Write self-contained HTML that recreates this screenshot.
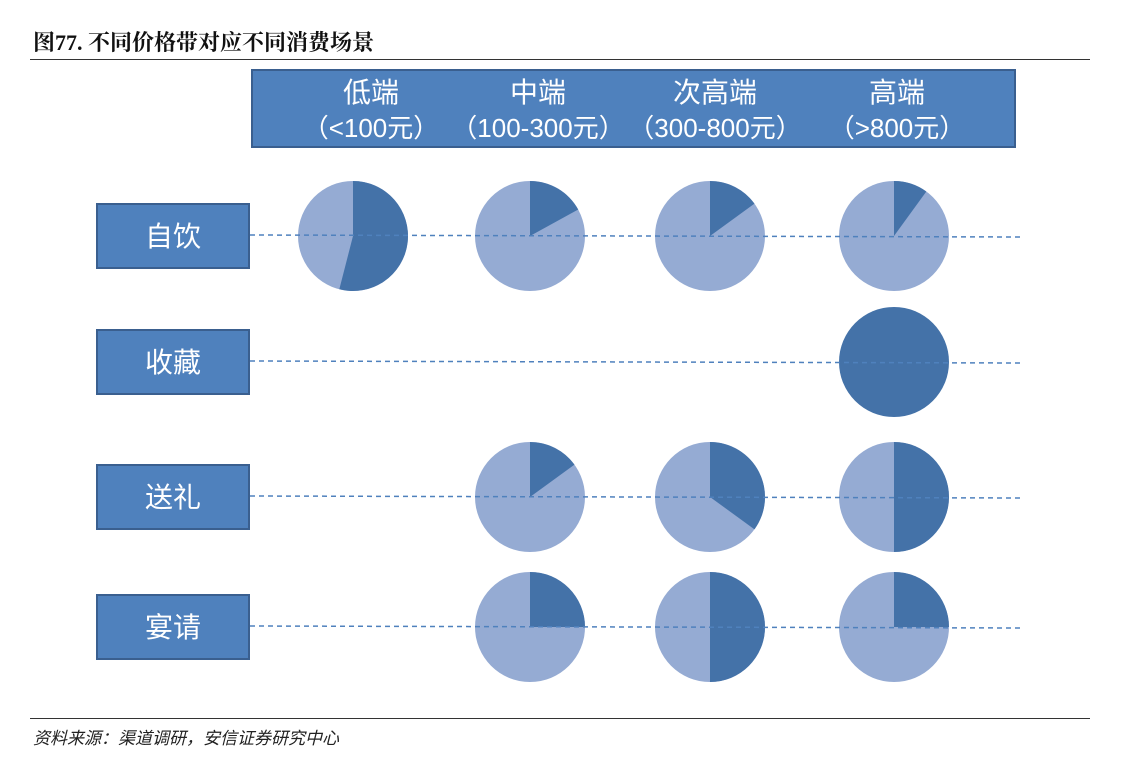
<!DOCTYPE html>
<html><head><meta charset="utf-8"><style>
body{margin:0;width:1134px;height:768px;background:#fff;position:relative;overflow:hidden;font-family:"Liberation Sans","Noto Sans CJK SC",sans-serif}
.title{position:absolute;left:33px;top:26px;font-size:22px;font-weight:bold;color:#111;font-family:"Liberation Serif","Noto Serif CJK SC",serif}
.hr{position:absolute;left:30px;width:1060px;height:1px;background:#333}
.src{position:absolute;left:33px;top:724px;font-size:17px;font-style:italic;color:#222}
</style></head><body>
<div class="title">图77. 不同价格带对应不同消费场景</div>
<div class="hr" style="top:59px"></div>
<div class="hr" style="top:718px"></div>
<div class="src">资料来源：渠道调研，安信证券研究中心</div>
<svg id="chart" width="1134" height="768" style="position:absolute;left:0;top:0"></svg>
<script>
const columns=["低端","中端","次高端","高端"];
const columnRanges=["（<100元）","（100-300元）","（300-800元）","（>800元）"];
const rows=["自饮","收藏","送礼","宴请"];
// dark share per row x column (null = no pie)
const selfDrink=[0.54,0.17,0.15,0.10];
const collect=[null,null,null,1.0];
const gift=[null,0.15,0.35,0.5];
const banquet=[null,0.25,0.5,0.25];
const values=[selfDrink,collect,gift,banquet];

const svg=document.getElementById('chart');
const NS='http://www.w3.org/2000/svg';
function mk(t,a){const e=document.createElementNS(NS,t);for(const k in a)e.setAttribute(k,a[k]);svg.appendChild(e);return e;}
const colX=i=>[353,530,710,894][i];
const rowY=i=>[236,362,497,627][i];
const R=55;
let hdr=mk('rect',{x:252,y:70,width:763,height:77,fill:'#4f81bd',stroke:'#3a5f8f','stroke-width':2});


const hx=[371,538,715,897];
columns.forEach((c,i)=>{
  let t=mk('text',{x:hx[i],y:102,'text-anchor':'middle','font-size':28,fill:'#fff'});t.textContent=c;
  
  
  let t2=mk('text',{x:hx[i],y:137,'text-anchor':'middle','font-size':26,fill:'#fff'});t2.textContent=columnRanges[i];
  
  
});
rows.forEach((r,j)=>{
  const y=rowY(j);
  let b=mk('rect',{x:97,y:y-32,width:152,height:64,fill:'#4f81bd',stroke:'#3a5f8f','stroke-width':2});
  
  
  let t=mk('text',{x:173,y:y+10,'text-anchor':'middle','font-size':28,fill:'#fff'});t.textContent=r;
  
  
});
values.forEach((row,j)=>row.forEach((v,i)=>{
  if(v===null)return;
  const cx=colX(i),cy=rowY(j);
  let c=mk('circle',{cx,cy,r:R,fill:v>=1?'#4472a8':'#95abd3'});
  
  
  if(v>0&&v<1){
    const a=v*2*Math.PI;
    const ex=cx+R*Math.sin(a),ey=cy-R*Math.cos(a);
    let p=mk('path',{d:`M${cx},${cy} L${cx},${cy-R} A${R},${R} 0 ${v>0.5?1:0} 1 ${ex},${ey} Z`,fill:'#4472a8'});
    
    
  }
}));
rows.forEach((r,j)=>{
  const y=rowY(j);
  let l=mk('line',{x1:250,y1:y-1,x2:1020,y2:y+1,stroke:'#4f81bd','stroke-width':1.5,'stroke-dasharray':'5,4'});
  
  
});
</script>
</body></html>
